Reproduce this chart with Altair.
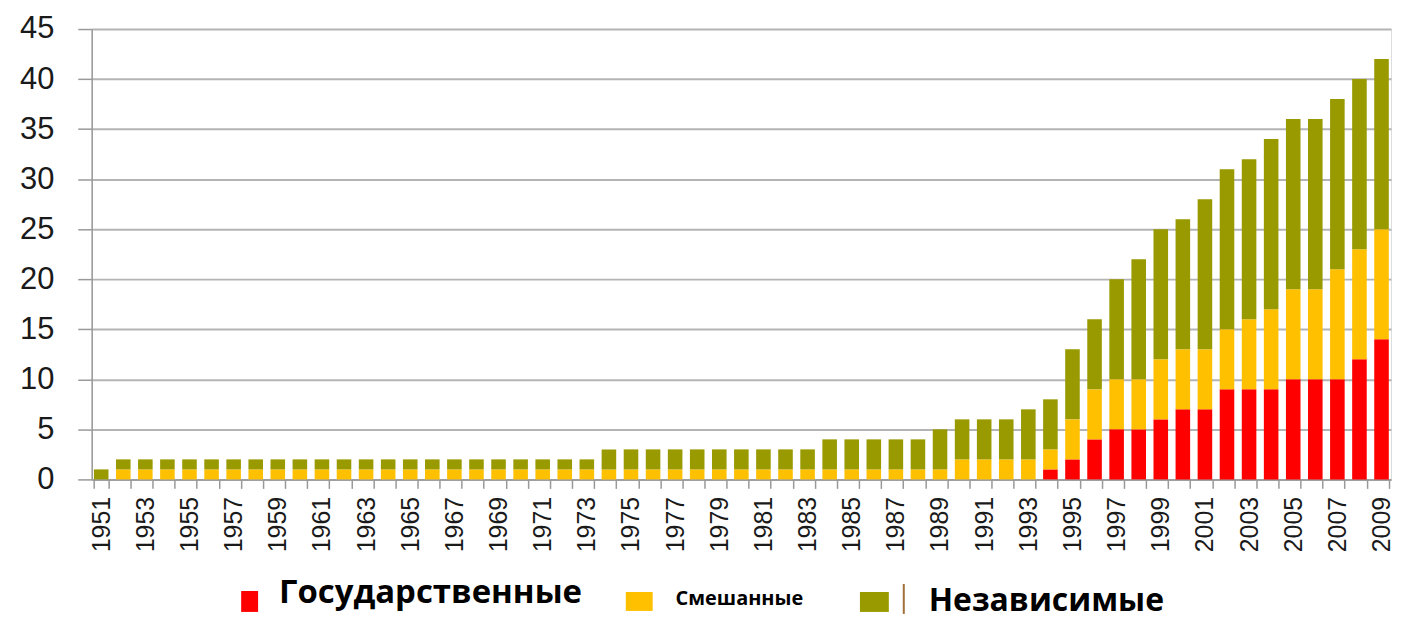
import altair as alt
import pandas as pd

years = list(range(1951, 2010))

state = [0] * 43 + [1, 2, 4, 5, 5, 6, 7, 7, 9, 9, 9, 10, 10, 10, 12, 14]

mixed = ([0] + [1] * 38 + [2] * 5 +
         [4, 5, 5, 5, 6, 6, 6, 6, 7, 8, 9, 9, 11, 11, 11])

totals = ([1] + [2] * 22 + [3] * 10 + [4] * 5 + [5] + [6] * 3 + [7, 8] +
          [13, 16, 20, 22, 25, 26, 28, 31, 32, 34, 36, 36, 38, 40, 42])

independent = [t - s - m for t, s, m in zip(totals, state, mixed)]

series_names = ["Государственные", "Смешанные", "Независимые"]
series_colors = ["#ff0000", "#ffc000", "#999900"]

rows = []
for i, y in enumerate(years):
    for k, (name, vals) in enumerate(zip(series_names, [state, mixed, independent])):
        rows.append({"year": y, "series": name, "value": vals[i], "order": k})
df = pd.DataFrame(rows)

W, H = 1304, 452

bars = alt.Chart(df).mark_bar().encode(
    x=alt.X("year:O",
            scale=alt.Scale(paddingInner=0.34, paddingOuter=0.1),
            axis=alt.Axis(title=None, labelAngle=-90,
                          labelExpr="(+datum.value) % 2 == 1 ? datum.label : ''",
                          tickBand="extent", tickSize=9, tickColor="#999999",
                          tickWidth=1.5, domainColor="#999999", domainWidth=1.5,
                          labelFont="Liberation Sans", labelFontSize=25,
                          labelColor="#1a1a1a", labelPadding=8)),
    y=alt.Y("value:Q", stack="zero",
            scale=alt.Scale(domain=[0, 45], nice=False),
            axis=alt.Axis(title=None, values=list(range(0, 46, 5)),
                          grid=True, gridColor="#b4b4b4", gridWidth=2,
                          tickSize=14, tickColor="#999999", tickWidth=1.5,
                          domainColor="#999999", domainWidth=1.5,
                          labelFont="Liberation Sans", labelFontSize=31,
                          labelColor="#1a1a1a", labelPadding=24)),
    color=alt.Color("series:N", scale=alt.Scale(domain=series_names, range=series_colors),
                    legend=None),
    order=alt.Order("order:Q", sort="ascending"),
)

# custom legend (mixed font sizes as in the reference)
rect_x = [150, 536, 771]
rect_x2 = [167, 563, 800]
rect_y = [564, 565, 565]
rect_y2 = [585, 584, 585]

legend_layers = []
for i, name in enumerate(series_names):
    legend_layers.append(
        alt.Chart(pd.DataFrame({"series": [name]})).mark_rect(color=series_colors[i]).encode(
            x=alt.value(rect_x[i]), x2=alt.value(rect_x2[i]),
            y=alt.value(rect_y[i]), y2=alt.value(rect_y2[i]))
    )

sep = alt.Chart(pd.DataFrame({"a": [0]})).mark_rule(color="#a0703a", strokeWidth=2).encode(
    x=alt.value(815), y=alt.value(557), y2=alt.value(587))

text_x = [188, 586, 840]
text_y = [576, 578, 584]
text_sizes = [33, 20, 32]
for i, name in enumerate(series_names):
    legend_layers.append(
        alt.Chart(pd.DataFrame({"label": [name]})).mark_text(
            align="left", baseline="alphabetic", font="Open Sans",
            fontWeight="bold", fontSize=text_sizes[i], color="#000000").encode(
            x=alt.value(text_x[i]), y=alt.value(text_y[i]), text="label:N")
    )

chart = alt.layer(bars, sep, *legend_layers).properties(
    width=W, height=H,
    autosize=alt.AutoSizeParams(type="none"),
    padding={"left": 84, "top": 20, "right": 4, "bottom": 141},
).configure_view(stroke=None).configure(background="#ffffff")

chart.save("out.html", embed_options={"renderer": "svg", "actions": False})
